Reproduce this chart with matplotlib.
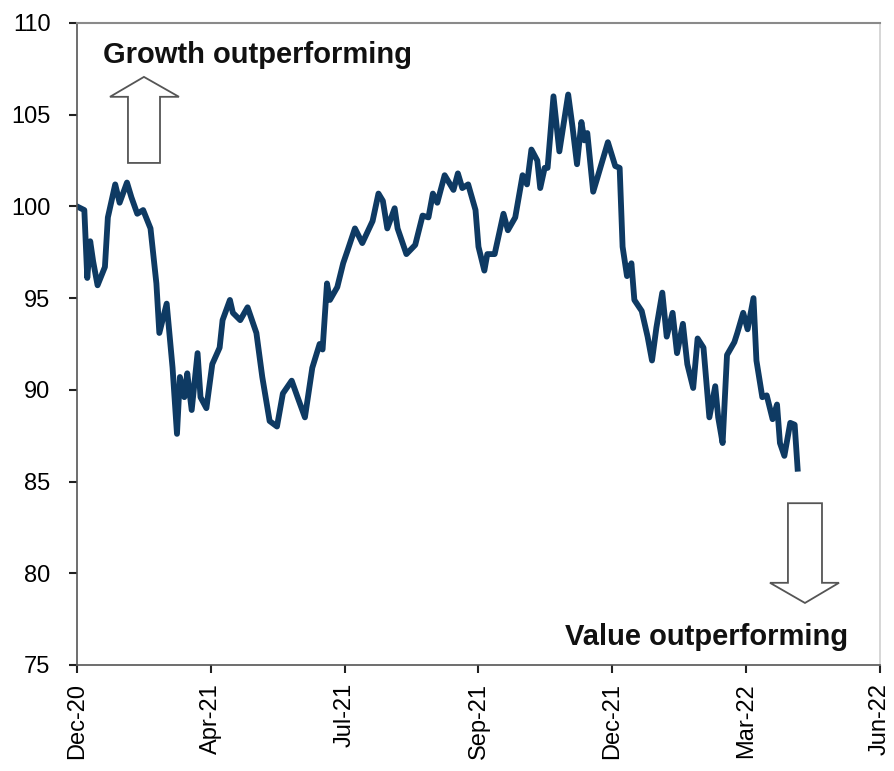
import matplotlib
matplotlib.use('Agg')
import matplotlib.pyplot as plt
import pandas as pd
from matplotlib.patches import Polygon

plt.rcParams['font.family'] = ['Liberation Sans', 'DejaVu Sans']

dates = [
    '2020-12-31', '2021-01-05', '2021-01-07', '2021-01-09', '2021-01-11',
    '2021-01-14', '2021-01-19', '2021-01-21', '2021-01-26', '2021-01-29',
    '2021-02-03', '2021-02-06', '2021-02-10', '2021-02-14', '2021-02-19',
    '2021-02-23', '2021-02-25', '2021-03-02', '2021-03-06', '2021-03-09',
    '2021-03-11', '2021-03-14', '2021-03-16', '2021-03-19', '2021-03-23',
    '2021-03-25', '2021-03-29', '2021-04-02', '2021-04-07', '2021-04-09',
    '2021-04-14', '2021-04-16', '2021-04-21', '2021-04-26', '2021-05-02',
    '2021-05-06', '2021-05-11', '2021-05-16', '2021-05-20', '2021-05-26',
    '2021-05-30', '2021-06-04', '2021-06-09', '2021-06-14', '2021-06-16',
    '2021-06-19', '2021-06-21', '2021-06-26', '2021-06-30', '2021-07-03',
    '2021-07-08', '2021-07-13', '2021-07-20', '2021-07-24', '2021-07-27',
    '2021-07-30', '2021-08-04', '2021-08-06', '2021-08-12', '2021-08-18',
    '2021-08-23', '2021-08-27', '2021-08-30', '2021-09-02', '2021-09-07',
    '2021-09-13', '2021-09-16', '2021-09-19', '2021-09-23', '2021-09-28',
    '2021-09-30', '2021-10-04', '2021-10-06', '2021-10-11', '2021-10-17',
    '2021-10-20', '2021-10-25', '2021-10-30', '2021-11-02', '2021-11-05',
    '2021-11-09', '2021-11-11', '2021-11-14', '2021-11-16', '2021-11-20',
    '2021-11-24', '2021-11-30', '2021-12-03', '2021-12-06', '2021-12-09',
    '2021-12-11', '2021-12-13', '2021-12-17', '2021-12-20', '2021-12-27',
    '2022-01-01', '2022-01-04', '2022-01-06', '2022-01-09', '2022-01-12',
    '2022-01-14', '2022-01-19', '2022-01-23', '2022-01-26', '2022-01-29',
    '2022-02-02', '2022-02-05', '2022-02-09', '2022-02-12', '2022-02-16',
    '2022-02-19', '2022-02-23', '2022-02-26', '2022-03-02', '2022-03-06',
    '2022-03-10', '2022-03-12', '2022-03-15', '2022-03-18', '2022-03-23',
    '2022-03-25', '2022-03-29', '2022-04-01', '2022-04-05', '2022-04-07',
    '2022-04-11', '2022-04-14', '2022-04-18', '2022-04-21', '2022-04-23',
    '2022-04-26', '2022-04-30', '2022-05-03', '2022-05-05',
]
values = [
    100.0, 99.8, 96.1, 98.1, 97.0,
    95.7, 96.7, 99.4, 101.2, 100.2,
    101.3, 100.5, 99.6, 99.8, 98.8,
    95.8, 93.1, 94.7, 91.2, 87.6,
    90.7, 89.6, 90.9, 88.9, 92.0,
    89.6, 89.0, 91.4, 92.3, 93.8,
    94.9, 94.2, 93.8, 94.5, 93.1,
    90.7, 88.3, 88.0, 89.8, 90.5,
    89.6, 88.5, 91.2, 92.5, 92.2,
    95.8, 94.9, 95.6, 96.9, 97.6,
    98.8, 98.0, 99.2, 100.7, 100.3,
    98.8, 99.9, 98.8, 97.4, 97.9,
    99.5, 99.4, 100.7, 100.2, 101.7,
    100.9, 101.8, 101.0, 101.2, 99.8,
    97.8, 96.5, 97.4, 97.4, 99.6,
    98.7, 99.4, 101.7, 101.2, 103.1,
    102.5, 101.0, 102.1, 102.1, 106.0,
    103.0, 106.1, 104.3, 102.3, 104.6,
    103.6, 104.0, 100.8, 101.6, 103.5,
    102.2, 102.1, 97.8, 96.2, 96.9,
    94.9, 94.3, 92.9, 91.6, 93.4,
    95.3, 92.9, 94.2, 92.0, 93.6,
    91.4, 90.1, 92.8, 92.3, 88.5,
    90.2, 88.5, 87.1, 91.9, 92.6,
    93.1, 94.2, 93.3, 95.0, 91.6,
    89.6, 89.7, 88.4, 89.2, 87.1,
    86.4, 88.2, 88.1, 85.7,
]

tick_dates = pd.date_range('2020-12-31', periods=7, freq='91D')
tick_labels = ['Dec-20', 'Apr-21', 'Jul-21', 'Sep-21', 'Dec-21', 'Mar-22', 'Jun-22']
y_ticks = [75, 80, 85, 90, 95, 100, 105, 110]

fig = plt.figure(figsize=(8.94, 7.71), dpi=100)
ax = fig.add_axes([0.0861, 0.1375, 0.8982, 0.8327])

ax.plot(pd.to_datetime(dates), values, color='#0e3a63', linewidth=4.2,
        solid_joinstyle='round')

ax.set_xlim(tick_dates[0], tick_dates[-1])
ax.set_ylim(75, 110)
ax.set_xticks(tick_dates)
ax.set_xticklabels(tick_labels, rotation=90, fontsize=17)
ax.set_yticks(y_ticks)
ax.set_yticklabels([str(v) for v in y_ticks], fontsize=17)
ax.tick_params(direction='out', length=6, width=1.5, color='#222222')
ax.tick_params(axis='y', pad=13)
ax.tick_params(axis='x', pad=7)

for side in ['left', 'bottom']:
    ax.spines[side].set_color('#555555')
    ax.spines[side].set_linewidth(1.2)
ax.spines['top'].set_color('#8a8a8a')
ax.spines['top'].set_linewidth(1.5)
ax.spines['right'].set_color('#d0d0d0')
ax.spines['right'].set_linewidth(1.2)

# hollow arrows
up_arrow = [(0.0635, 0.782), (0.1034, 0.782), (0.1034, 0.885), (0.127, 0.885),
            (0.0834, 0.916), (0.0411, 0.885), (0.0635, 0.885)]
down_arrow = [(0.8854, 0.252), (0.9278, 0.252), (0.9278, 0.128), (0.949, 0.128),
              (0.9066, 0.0966), (0.863, 0.128), (0.8854, 0.128)]
for pts in [up_arrow, down_arrow]:
    ax.add_patch(Polygon(pts, closed=True, transform=ax.transAxes,
                         facecolor='white', edgecolor='#555555', linewidth=1.3))

ax.text(0.0324, 0.950, 'Growth outperforming', transform=ax.transAxes,
        fontsize=21, fontweight='bold', ha='left', va='center', color='#111111')
ax.text(0.960, 0.0436, 'Value outperforming', transform=ax.transAxes,
        fontsize=21, fontweight='bold', ha='right', va='center', color='#111111')

fig.savefig('out.png', dpi=100)
